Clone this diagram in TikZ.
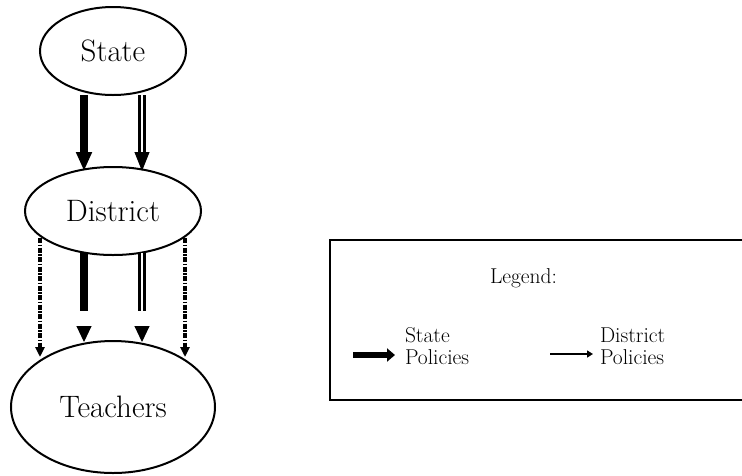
\documentclass[tikz,border=0pt]{standalone}
\usepackage{fontspec}
\usetikzlibrary{shapes.geometric,arrows.meta,calc}
\begin{document}
\begin{tikzpicture}[x=1pt,y=-1pt,
  agent/.style={ellipse, draw, line width=2pt, inner sep=0pt, outer sep=0pt,
    font=\fontsize{31}{36}\selectfont\addfontfeature{LetterSpace=2.5}},
  legendtext/.style={inner sep=0pt, outer sep=0pt, align=left,
    font=\fontsize{21.5}{21.5}\selectfont\addfontfeature{LetterSpace=9}},
  statestem/.style={line width=8pt},
  statetip/.style={line width=8pt, -{Triangle[width=15pt,length=#1]}},
  dblstem/.style={double, double distance=2.2pt, line width=3pt},
  dbltip/.style={line width=1pt, -{Triangle[width=15pt,length=#1]}},
  dashdot/.style={line width=3.5pt, dash pattern=on 5pt off 1.5pt on 1.5pt off 1.5pt,
    -{Triangle[width=9pt,length=10pt]}},
  legendbox/.style={line width=2.5pt},
]
\useasboundingbox (0,0) rectangle (742,475);

% actors
\node[agent, minimum width=146pt, minimum height=88pt]  (State)    at (113,51)  {State};
\node[agent, minimum width=176pt, minimum height=88pt]  (District) at (113,211) {District};
\node[agent, minimum width=204pt, minimum height=132pt] (Teachers) at (113,407) {Teachers};

% State -> District
\draw[statetip=19pt] ([xshift=-29pt]State.south) -- ([xshift=-29pt,yshift=-4pt]District.north);
\draw[dblstem, shorten >=19pt] ([xshift=29pt]State.south) -- ([xshift=29pt,yshift=-4pt]District.north);
\draw[dbltip=19pt] ([xshift=29pt,yshift=15pt]District.north) -- ([xshift=29pt,yshift=-4pt]District.north);

% District -> Teachers: state policy passed on
\draw[statestem, shorten >=31pt] ([xshift=-29pt,yshift=2pt]District.south) -- ([xshift=-29pt,yshift=-1pt]Teachers.north);
\draw[dbltip=16pt] ([xshift=-29pt,yshift=15pt]Teachers.north) -- ([xshift=-29pt,yshift=-1pt]Teachers.north);
\draw[dblstem, shorten >=31pt] ([xshift=29pt,yshift=2pt]District.south) -- ([xshift=29pt,yshift=-1pt]Teachers.north);
\draw[dbltip=16pt] ([xshift=29pt,yshift=15pt]Teachers.north) -- ([xshift=29pt,yshift=-1pt]Teachers.north);

% District -> Teachers: district policy
\draw[dashdot] ($(District.center)+(-73,27)$) -- ($(Teachers.center)+(-73,-50)$);
\draw[dashdot] ($(District.center)+(72,27)$) -- ($(Teachers.center)+(72,-50)$);

% legend
\coordinate (lgTR) at (745,240);
\coordinate (lgTL) at (330,240);
\coordinate (lgBL) at (330,400);
\coordinate (lgBR) at (745,400);
\draw[legendbox] (lgTR) -- (lgTL) -- (lgBL) -- (lgBR);
\node[legendtext, anchor=base west] (lgtitle) at (490,283) {Legend:};

\coordinate (lsA) at (353,355);
\coordinate (lsB) at (395,355);
\draw[line width=6pt, -{Triangle[width=13pt,length=8pt]}] (lsA) -- (lsB);
\node[legendtext, anchor=west] (lstate) at (405,346) {State\\Policies};

\coordinate (ldA) at (550,354);
\coordinate (ldB) at (593,354);
\draw[line width=1.8pt, -{Triangle[width=7pt,length=6pt]}] (ldA) -- (ldB);
\node[legendtext, anchor=west] (ldist) at (600,346) {District\\Policies};
\end{tikzpicture}
\end{document}
